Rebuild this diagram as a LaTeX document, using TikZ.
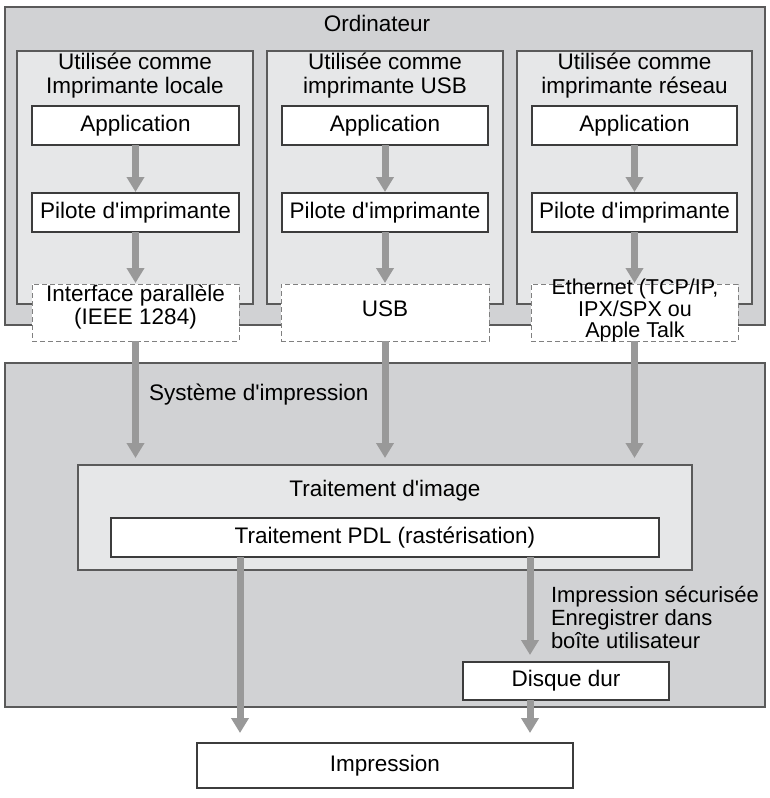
\documentclass[tikz,border=0pt]{standalone}
\usepackage{fontspec}
\setmainfont{Liberation Sans}[Ligatures=TeXOff]
\usetikzlibrary{arrows.meta,calc}
\definecolor{outerfill}{HTML}{D1D2D4}
\definecolor{innerfill}{HTML}{E6E7E8}
\definecolor{edge}{HTML}{3C3C3C}
\definecolor{regionedge}{HTML}{5A5A5A}
\definecolor{arrowgray}{HTML}{999999}
\definecolor{dashgray}{HTML}{808080}
\begin{document}
\begin{tikzpicture}[x=1pt,y=-1pt,
  every node/.style={font=\fontsize{22.5}{24}\selectfont, inner sep=0pt, outer sep=0pt},
  region/.style={draw=regionedge, fill=outerfill, line width=1.3pt, anchor=north west},
  column/.style={draw=regionedge, fill=innerfill, line width=1.2pt, anchor=north west},
  whitebox/.style={draw=edge, fill=white, line width=1.2pt, anchor=north west},
  portbox/.style={draw=dashgray, dash pattern=on 5pt off 3pt, fill=white, line width=0.9pt, anchor=north west},
  flow/.style={draw=arrowgray, line width=7pt, -{Triangle[width=17pt,length=15pt]}}
]
\useasboundingbox (0,0) rectangle (770,798);
\fill[white] (0,0) rectangle (770,798);

% Ordinateur
\node[region, minimum width=760pt, minimum height=318pt] (ordi) at (5,7) {};
\node (ordilbl) at (377,23) {Ordinateur};

% columns
\node[column, minimum width=236pt, minimum height=253pt] (col1) at (17,51) {};
\node[column, minimum width=236pt, minimum height=253pt] (col2) at (267,51) {};
\node[column, minimum width=235pt, minimum height=253pt] (col3) at (517,51) {};

\node[align=center] (t1) at (135,76) {Utilisée comme\\Imprimante locale};
\node[align=center] (t2) at (385,76) {Utilisée comme\\imprimante USB};
\node[align=center] (t3) at (634.5,76) {Utilisée comme\\imprimante réseau};

\node[whitebox, minimum width=207pt, minimum height=39pt] (app1) at (32,106) {Application};
\node[whitebox, minimum width=206pt, minimum height=39pt] (app2) at (282,106) {Application};
\node[whitebox, minimum width=205pt, minimum height=39pt] (app3) at (532,106) {Application};

\node[whitebox, minimum width=207pt, minimum height=39pt] (pil1) at (32,193) {Pilote d'imprimante};
\node[whitebox, minimum width=206pt, minimum height=39pt] (pil2) at (282,193) {Pilote d'imprimante};
\node[whitebox, minimum width=205pt, minimum height=39pt] (pil3) at (532,193) {Pilote d'imprimante};

\node[portbox, minimum width=207pt, minimum height=57pt] (port1) at (32,284) {};
\node[portbox, minimum width=208pt, minimum height=57pt] (port2) at (281,284) {};
\node[portbox, minimum width=207pt, minimum height=57pt] (port3) at (531,284) {};
\node[align=center, font=\fontsize{22.5}{23}\selectfont] (p1txt) at (135.5,307) {Interface parallèle\\(IEEE 1284)};
\node (p2txt) at (385,309) {USB};
\node[align=center, font=\fontsize{21.5}{21.5}\selectfont] (p3txt) at (635,310.5) {Ethernet (TCP/IP,\\IPX/SPX ou\\Apple Talk};

\draw[flow, shorten >=1pt] (app1) -- (pil1);
\draw[flow, shorten >=1pt] (app2) -- (pil2);
\draw[flow, shorten >=1pt] (app3) -- (pil3);
\draw[flow, shorten >=1pt] (pil1) -- (port1);
\draw[flow, shorten >=1pt] (pil2) -- (port2);
\draw[flow, shorten >=1pt] (pil3) -- (port3);

% Système d'impression
\node[region, minimum width=760pt, minimum height=344pt] (sys) at (5,363) {};
\node[anchor=west] (syslbl) at (149,395) {Système d'impression};

\node[column, minimum width=614pt, minimum height=105pt] (trait) at (78,465) {};
\node (traitlbl) at (385,491) {Traitement d'image};
\node[whitebox, minimum width=548pt, minimum height=39pt] (pdl) at (111,518) {Traitement PDL (rastérisation)};

\draw[flow, shorten >=7pt] (port1.south) -- (port1.south |- trait.north);
\draw[flow, shorten >=7pt] (port2.south) -- (port2.south |- trait.north);
\draw[flow, shorten >=7pt] (port3.south) -- (port3.south |- trait.north);

\node[whitebox, minimum width=206pt, minimum height=38pt] (hdd) at (463,662) {Disque dur};
\node[anchor=west, align=left, font=\fontsize{22}{23}\selectfont] (seclbl) at (551,617) {Impression sécurisée\\Enregistrer dans\\boîte utilisateur};

\node[whitebox, minimum width=376pt, minimum height=45pt] (imp) at (197,743) {Impression};

\coordinate (a1) at (240,743);
\coordinate (a2) at (530,743);
\draw[flow, shorten >=10pt] (pdl.south -| a1) -- (a1);
\draw[flow, shorten >=7pt] (pdl.south -| a2) -- (hdd.north -| a2);
\draw[flow, shorten >=10pt] (hdd.south -| a2) -- (a2);
\end{tikzpicture}
\end{document}
